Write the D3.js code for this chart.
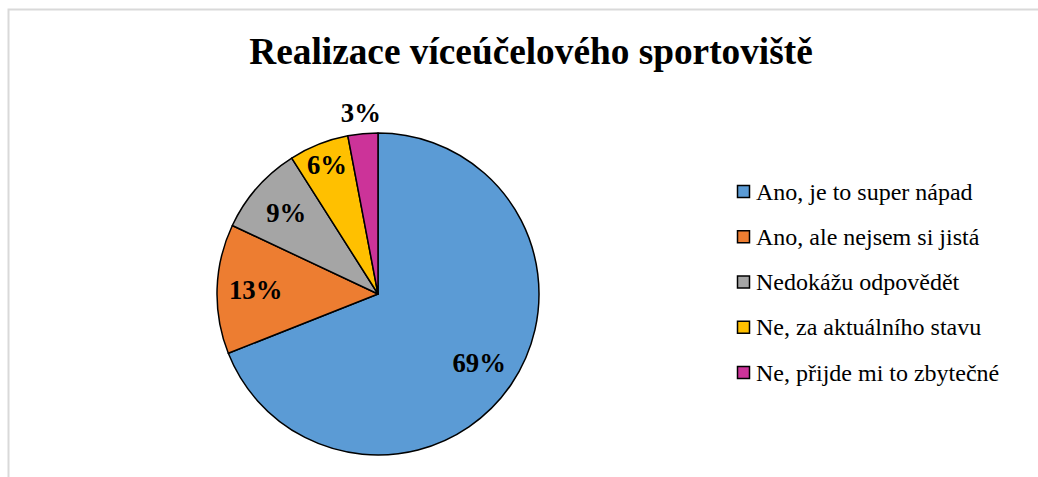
<!DOCTYPE html>
<html>
<head>
<meta charset="utf-8">
<script src="https://cdn.jsdelivr.net/npm/d3@7"></script>
<style>
  body { margin: 0; background: #fff; }
  svg { display: block; }
  svg text { font-family: "Liberation Serif", "Times New Roman", serif; }
</style>
</head>
<body>
<svg id="chart"></svg>
<script>
// data
let categories = [
  'Ano, je to super nápad',
  'Ano, ale nejsem si jistá',
  'Nedokážu odpovědět',
  'Ne, za aktuálního stavu',
  'Ne, přijde mi to zbytečné'
];
let values = [69, 13, 9, 6, 3];
let colors = ['#5B9BD5', '#ED7D31', '#A5A5A5', '#FFC000', '#CC3399'];
let title = 'Realizace víceúčelového sportoviště';

let width = 1038;
let height = 477;
let cx = 378;
let cy = 294;
let radius = 161;
let serif = '"Liberation Serif", "Times New Roman", serif';

let svg = d3.select('#chart')
            .attr('width', width)
            .attr('height', height);

// chart frame (only top and left edges are visible in the crop)
svg.append('rect')
    .attr('x', 8.5)
    .attr('y', 9.5)
    .attr('width', width + 40)
    .attr('height', height + 40)
    .attr('fill', 'none')
    .attr('stroke', '#d9d9d9')
    .attr('stroke-width', 2);

svg.append('text')
    .attr('x', 531)
    .attr('y', 64)
    .attr('text-anchor', 'middle')
    .attr('font-family', serif)
    .style('font-size', '37.3px')
    .style('font-weight', 'bold')
    .text(title);

let total = d3.sum(values);
let pie = d3.pie().sort(null).value(d => d);
let arcs = pie(values);

let arc = d3.arc().innerRadius(0).outerRadius(radius);

let g = svg.append('g')
           .attr('transform', `translate(${cx},${cy})`);

g.selectAll('path')
  .data(arcs)
  .enter()
  .append('path')
  .attr('d', arc)
  .attr('fill', (d, i) => colors[i])
  .attr('stroke', '#000')
  .attr('stroke-width', 1.5)
  .attr('stroke-linejoin', 'round');

// labels: small slices go outside the pie
let labelArc = d => {
  let share = d.data / total;
  let r = share < 0.05 ? radius * 1.13 : share < 0.08 ? radius * 0.86 : radius * 0.76;
  return d3.arc().innerRadius(r).outerRadius(r);
};

g.selectAll('text.lbl')
  .data(arcs)
  .enter()
  .append('text')
  .classed('lbl', true)
  .attr('transform', d => `translate(${labelArc(d).centroid(d)})`)
  .attr('text-anchor', 'middle')
  .attr('dy', '0.33em')
  .attr('font-family', serif)
  .style('font-size', '26.7px')
  .style('font-weight', 'bold')
  .text(d => Math.round(d.data / total * 100) + '%');

// legend
let legendY = d3.scalePoint()
                .domain(categories)
                .range([191.5, 372.5]);

let legend = svg.append('g')
                .selectAll('g')
                .data(categories)
                .enter()
                .append('g')
                .attr('transform', d => `translate(737,${legendY(d)})`);

legend.append('rect')
      .attr('x', 0.5)
      .attr('y', -6)
      .attr('width', 12)
      .attr('height', 12)
      .attr('fill', (d, i) => colors[i])
      .attr('stroke', '#000')
      .attr('stroke-width', 1.5);

legend.append('text')
      .attr('x', 19)
      .attr('y', 8)
      .attr('font-family', serif)
      .style('font-size', '24px')
      .style('font-weight', 'normal')
      .text(d => d);
</script>
</body>
</html>
